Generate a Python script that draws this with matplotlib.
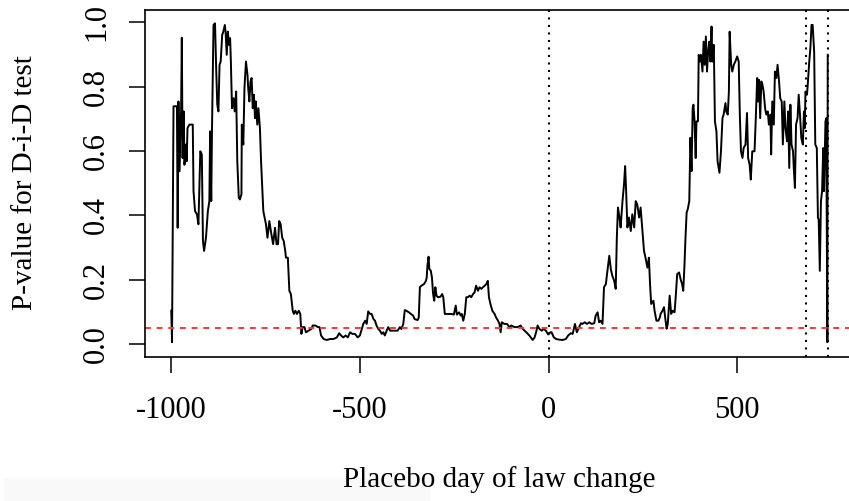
import matplotlib
matplotlib.use("Agg")
import matplotlib.pyplot as plt
from matplotlib.patches import Rectangle

# placebo day of law change and the p-value of the D-i-D test
days = [
    -1000, -998, -994, -985, -983, -981, -978, -974, -972, -970, -967, -965,
    -961, -959, -957, -952, -943, -941, -937, -932, -928, -923, -919, -916,
    -913, -908, -903, -899, -897, -894, -892, -890, -888, -884, -881, -878,
    -875, -872, -869, -865, -862, -858, -856, -853, -850, -847, -844, -842,
    -839, -835, -832, -828, -825, -821, -818, -814, -813, -809, -806, -802,
    -798, -796, -793, -790, -787, -784, -781, -778, -776, -772, -769, -765,
    -762, -756, -749, -745, -740, -736, -730, -725, -721, -717, -714, -710,
    -706, -702, -698, -696, -691, -687, -683, -678, -675, -671, -667, -662,
    -658, -655, -652, -647, -643, -636, -629, -625, -618, -611, -607, -603,
    -596, -588, -579, -570, -561, -555, -550, -544, -538, -532, -526, -520,
    -513, -506, -500, -495, -491, -486, -482, -478, -473, -469, -464, -460,
    -456, -451, -447, -442, -438, -434, -429, -425, -420, -416, -407, -400,
    -394, -390, -385, -381, -377, -370, -365, -359, -355, -347, -344, -341,
    -337, -330, -325, -323, -321, -318, -316, -312, -309, -306, -303, -300,
    -297, -293, -286, -282, -279, -275, -266, -258, -251, -246, -243, -237,
    -233, -230, -226, -222, -218, -214, -209, -205, -200, -196, -192, -187,
    -183, -178, -174, -169, -165, -161, -158, -154, -149, -143, -139, -134,
    -130, -127, -124, -117, -110, -104, -99, -90, -82, -74, -68, -59,
    -51, -42, -37, -33, -29, -24, -18, -13, -7, -1, 5, 8,
    14, 20, 29, 37, 46, 52, 59, 64, 70, 75, 81, 86,
    90, 96, 102, 108, 114, 121, 125, 130, 134, 138, 143, 147,
    152, 156, 161, 165, 169, 174, 178, 181, 184, 188, 191, 196,
    200, 203, 205, 209, 213, 218, 222, 227, 231, 235, 240, 244,
    249, 253, 257, 262, 266, 269, 272, 278, 281, 286, 291, 295,
    297, 302, 306, 309, 313, 316, 321, 325, 329, 334, 337, 341,
    346, 350, 354, 357, 360, 363, 366, 369, 373, 376, 379, 382,
    384, 387, 390, 392, 396, 398, 401, 404, 408, 411, 414, 417,
    420, 423, 426, 429, 432, 434, 438, 441, 445, 448, 453, 457,
    461, 464, 469, 471, 475, 478, 480, 484, 487, 491, 495, 500,
    504, 507, 510, 514, 517, 522, 526, 529, 533, 536, 540, 546,
    549, 553, 555, 558, 561, 564, 567, 570, 574, 577, 581, 584,
    588, 590, 593, 597, 600, 604, 607, 611, 614, 618, 621, 625,
    628, 632, 635, 638, 641, 644, 648, 650, 653, 656, 660, 663,
    667, 670, 674, 677, 679, 681, 685, 687, 691, 694, 697, 700,
    704, 707, 711, 714, 716, 719, 722, 725, 728, 730, 734, 736,
    739, 740,
]
pvals = [
    0.103, 0.005, 0.739, 0.739, 0.361, 0.754, 0.537, 0.723, 0.952, 0.578, 0.723, 0.557,
    0.620, 0.568, 0.671, 0.682, 0.682, 0.475, 0.413, 0.403, 0.372, 0.599, 0.589, 0.320,
    0.289, 0.330, 0.413, 0.444, 0.661, 0.444, 0.671, 0.827, 0.992, 0.997, 0.858, 0.744,
    0.723, 0.868, 0.878, 0.961, 0.971, 0.992, 0.971, 0.899, 0.971, 0.930, 0.951, 0.878,
    0.733, 0.764, 0.723, 0.785, 0.568, 0.454, 0.449, 0.465, 0.682, 0.620, 0.795, 0.878,
    0.837, 0.795, 0.754, 0.816, 0.827, 0.733, 0.775, 0.702, 0.754, 0.682, 0.733, 0.671,
    0.568, 0.413, 0.372, 0.330, 0.382, 0.351, 0.310, 0.361, 0.310, 0.310, 0.382, 0.372,
    0.330, 0.320, 0.290, 0.268, 0.268, 0.165, 0.155, 0.103, 0.093, 0.103, 0.093, 0.103,
    0.093, 0.031, 0.052, 0.052, 0.036, 0.041, 0.046, 0.057, 0.057, 0.052, 0.052, 0.026,
    0.015, 0.012, 0.015, 0.015, 0.020, 0.033, 0.026, 0.020, 0.026, 0.020, 0.036, 0.031,
    0.031, 0.020, 0.026, 0.046, 0.062, 0.072, 0.062, 0.101, 0.093, 0.093, 0.077, 0.072,
    0.057, 0.046, 0.041, 0.031, 0.036, 0.026, 0.041, 0.052, 0.041, 0.041, 0.041, 0.041,
    0.052, 0.046, 0.062, 0.105, 0.103, 0.098, 0.093, 0.088, 0.077, 0.074, 0.082, 0.176,
    0.181, 0.186, 0.196, 0.206, 0.243, 0.271, 0.233, 0.227, 0.206, 0.155, 0.134, 0.176,
    0.150, 0.145, 0.147, 0.155, 0.145, 0.093, 0.093, 0.093, 0.091, 0.119, 0.091, 0.098,
    0.088, 0.093, 0.072, 0.093, 0.145, 0.145, 0.150, 0.145, 0.155, 0.160, 0.181, 0.165,
    0.176, 0.171, 0.176, 0.181, 0.186, 0.196, 0.145, 0.124, 0.103, 0.093, 0.082, 0.072,
    0.062, 0.036, 0.067, 0.062, 0.062, 0.052, 0.057, 0.052, 0.052, 0.057, 0.046, 0.036,
    0.026, 0.012, 0.020, 0.036, 0.057, 0.046, 0.041, 0.046, 0.041, 0.029, 0.036, 0.036,
    0.020, 0.015, 0.013, 0.012, 0.015, 0.026, 0.033, 0.031, 0.062, 0.036, 0.052, 0.064,
    0.062, 0.067, 0.062, 0.067, 0.062, 0.064, 0.088, 0.098, 0.067, 0.072, 0.062, 0.176,
    0.186, 0.227, 0.274, 0.233, 0.212, 0.196, 0.171, 0.331, 0.424, 0.393, 0.362, 0.444,
    0.496, 0.553, 0.496, 0.362, 0.393, 0.351, 0.403, 0.362, 0.444, 0.434, 0.393, 0.424,
    0.351, 0.289, 0.268, 0.237, 0.268, 0.186, 0.124, 0.134, 0.103, 0.072, 0.072, 0.082,
    0.093, 0.103, 0.114, 0.083, 0.047, 0.062, 0.150, 0.093, 0.103, 0.098, 0.145, 0.217,
    0.222, 0.201, 0.186, 0.165, 0.237, 0.331, 0.408, 0.419, 0.444, 0.641, 0.537, 0.733,
    0.744, 0.692, 0.578, 0.692, 0.692, 0.899, 0.878, 0.899, 0.847, 0.940, 0.868, 0.956,
    0.847, 0.909, 0.940, 0.878, 0.987, 0.878, 0.930, 0.692, 0.661, 0.568, 0.532, 0.599,
    0.702, 0.713, 0.749, 0.723, 0.713, 0.785, 0.971, 0.868, 0.847, 0.868, 0.878, 0.894,
    0.878, 0.713, 0.599, 0.578, 0.609, 0.620, 0.718, 0.578, 0.557, 0.511, 0.599, 0.599,
    0.692, 0.827, 0.754, 0.821, 0.702, 0.816, 0.806, 0.785, 0.733, 0.713, 0.723, 0.682,
    0.713, 0.589, 0.754, 0.682, 0.847, 0.827, 0.868, 0.816, 0.764, 0.754, 0.620, 0.754,
    0.671, 0.630, 0.723, 0.547, 0.744, 0.620, 0.599, 0.547, 0.485, 0.682, 0.702, 0.775,
    0.702, 0.640, 0.620, 0.723, 0.671, 0.785, 0.775, 0.806, 0.878, 0.920, 0.992, 0.992,
    0.909, 0.620, 0.609, 0.392, 0.387, 0.227, 0.444, 0.475, 0.609, 0.475, 0.692, 0.702,
    0.005, 0.899,
]

vlines = [0, 683, 740]
alpha_level = 0.05
xticks = [-1000, -500, 0, 500]
xticklabels = ["-1000", "-500", "0", "500"]
yticks = [0.0, 0.2, 0.4, 0.6, 0.8, 1.0]
yticklabels = ["0.0", "0.2", "0.4", "0.6", "0.8", "1.0"]

plt.rcParams['font.family'] = ['Liberation Serif', 'DejaVu Serif']

fig = plt.figure(figsize=(8.49, 5.01), dpi=100)
# faint grey strip in the lower left corner of the original
fig.patches.append(Rectangle((4 / 849, 0), 426 / 849, 23 / 501, transform=fig.transFigure,
                             facecolor='#f9f9f9', edgecolor='none', zorder=0))

ax = fig.add_axes([145 / 849, 144.3 / 501, 709 / 849, 347.2 / 501])
ax.patch.set_alpha(0)

ax.plot(days, pvals, color='black', lw=1.4)
ax.axhline(alpha_level, color='#ff3333', lw=1.4, dashes=(3.0, 3.0))
for v in vlines:
    ax.axvline(v, color='black', lw=1.5, dashes=(1.0, 2.6))

span = max(days) - min(days)
ax.set_xlim(min(days) - 0.04 * span, max(days) + 0.04 * span)
ax.set_ylim(-0.04, 1.04)

ax.set_xticks(xticks)
ax.set_xticklabels(xticklabels, fontsize=22)
ax.set_yticks(yticks)
ax.set_yticklabels(yticklabels, fontsize=22, rotation=90, va='center')
ax.tick_params(axis='both', direction='out', length=11.5, width=1.1, color='black')
ax.tick_params(axis='x', pad=17)
ax.tick_params(axis='y', pad=13)
for s in ax.spines.values():
    s.set_linewidth(1.2)

fig.text(499.5 / 849, 1 - 480 / 501, "Placebo day of law change", fontsize=21,
         ha='center', va='center')
fig.text(25 / 849, 1 - 183 / 501, "P-value for D-i-D test", fontsize=21,
         ha='center', va='center', rotation=90)

fig.savefig("out.png", dpi=100)
